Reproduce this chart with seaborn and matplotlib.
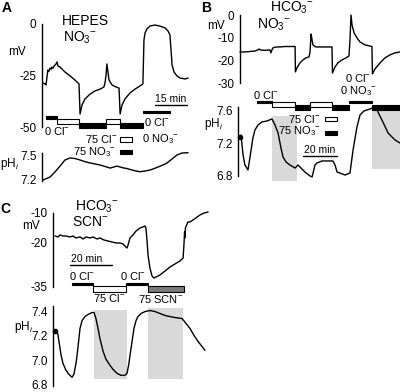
import numpy as np
import pandas as pd
import matplotlib
matplotlib.use("Agg")
import matplotlib.pyplot as plt
import seaborn as sns
from matplotlib.patches import Rectangle
from matplotlib.lines import Line2D
from matplotlib.transforms import blended_transform_factory

# ------------------------- data -------------------------
# Panel A (HEPES, NO3-), time in min
A_mv_t = [0, 0.9, 1.4, 2.3, 2.8, 3.3, 3.8, 4.2, 4.7, 5.2, 5.6, 6.1, 6.6, 7.0, 8.0, 10.3, 12.7, 15.0,
          16.9, 17.4, 18.3, 19.7, 22.1, 24.4, 26.8, 28.6, 29.1, 29.6, 30.0, 30.5, 31.0, 32.4, 34.3, 35.7,
          36.2, 37.1, 38.5, 40.8, 43.2, 45.5, 46.9, 47.4, 47.9, 48.8, 50.2, 52.6, 54.9, 57.3, 58.7, 59.6,
          60.1, 60.6, 61.5, 62.9, 64.3, 66.7, 68.1]
A_mv = [-28.6, -29.1, -29.6, -22.3, -23.0, -21.4, -22.0, -20.9, -21.5, -20.4, -20.0, -19.4, -18.4, -20.4,
        -20.9, -23.3, -25.2, -27.2, -29.1, -43.7, -39.3, -36.4, -34.0, -32.5, -31.6, -30.6, -28.6, -24.8,
        -19.4, -23.3, -27.2, -29.6, -30.6, -31.1, -43.7, -39.3, -36.4, -33.5, -31.6, -30.1, -29.1, -7.8,
        -4.4, -2.4, -1.0, -0.5, -1.0, -1.9, -3.4, -5.3, -12.6, -19.9, -23.3, -25.2, -26.2, -26.7, -26.2]
A_ph_t = [0, 3.3, 5.6, 8.0, 10.3, 12.7, 15.0, 17.4, 19.7, 22.1, 24.4, 26.8, 29.1, 31.5, 33.3, 34.7, 36.2,
          38.0, 39.4, 41.8, 43.7, 45.5, 47.9, 50.2, 51.6, 54.0, 56.3, 58.2, 60.6, 62.9, 65.3, 68.1]
A_ph = [7.187, 7.226, 7.291, 7.369, 7.448, 7.474, 7.467, 7.448, 7.426, 7.409, 7.396, 7.383, 7.363, 7.343,
        7.356, 7.369, 7.356, 7.343, 7.337, 7.317, 7.304, 7.295, 7.304, 7.317, 7.330, 7.356, 7.383, 7.409,
        7.461, 7.513, 7.539, 7.543]
A_sol_start = [1.4, 6.6, 17.1, 29.6, 36.0, 47.1]
A_sol_end = [6.6, 17.1, 29.6, 36.0, 47.1, 59.6]
A_sol_kind = ["0Cl", "75Cl", "75NO3", "75Cl", "75NO3", "0Cl0NO3"]
A_mv_ticks = [0, -25, -50]
A_mv_labels = ["0", "-25", "-50"]
A_ph_ticks = [7.5, 7.2]
A_ph_labels = ["7.5", "7.2"]
A_scale_min = 15

# Panel B (HCO3-, NO3-)
B_mv_t = [0, 2.9, 5.9, 8.8, 10.6, 11.2, 11.8, 14.7, 17.6, 18.2, 18.8, 19.4, 21.2, 23.5, 26.5, 29.4, 32.4,
          32.6, 33.5, 35.3, 37.1, 38.8, 40.6, 41.2, 41.8, 42.4, 42.9, 44.7, 47.1, 50.0, 54.1, 54.4, 55.9,
          57.6, 60.0, 62.4, 64.1, 64.7, 65.3, 65.9, 67.1, 68.8, 70.6, 73.5, 76.5, 77.6, 77.9, 79.4, 82.4,
          85.3, 88.2, 91.2, 94.1]
B_mv = [-16.3, -16.3, -16.1, -15.9, -15.4, -15.0, -15.4, -15.6, -15.4, -16.7, -15.4, -14.5, -14.1, -14.1,
        -13.9, -13.9, -13.9, -25.1, -23.3, -21.1, -19.8, -18.9, -18.5, -16.3, -8.4, -11.0, -13.2, -14.1,
        -14.1, -14.1, -14.1, -25.6, -22.9, -21.1, -19.8, -18.9, -18.1, -11.0, 0.0, -4.4, -7.9, -10.1,
        -11.9, -13.2, -13.7, -13.9, -26.0, -23.8, -21.1, -18.9, -17.6, -16.7, -16.3]
B_ph_t = [0, 0.6, 1.8, 2.9, 4.7, 5.9, 7.6, 8.8, 10.6, 12.9, 15.9, 18.8, 20.6, 22.4, 24.1, 25.3, 27.1,
          29.4, 32.4, 34.1, 35.3, 38.2, 41.2, 42.4, 44.1, 45.3, 48.2, 51.2, 54.7, 55.9, 57.1, 58.8, 61.8,
          64.7, 66.5, 68.8, 70.6, 72.9, 74.7, 78.2, 80.6, 83.5, 87.1, 91.2, 94.1]
B_ph = [7.28, 7.305, 7.058, 6.935, 6.874, 7.034, 7.268, 7.366, 7.428, 7.465, 7.477, 7.502, 7.428, 7.329,
        7.145, 7.034, 6.972, 6.935, 6.898, 6.935, 6.911, 6.849, 6.80, 6.788, 6.935, 6.96, 6.985, 6.985,
        6.985, 6.935, 6.849, 6.837, 6.812, 6.837, 7.12, 7.403, 7.551, 7.60, 7.612, 7.637, 7.612, 7.489,
        7.329, 7.243, 7.206]
B_sol_start = [10.0, 18.8, 32.6, 41.2, 54.4, 64.1, 77.9]
B_sol_end = [18.8, 32.6, 41.2, 54.4, 64.1, 77.6, 94.1]
B_sol_kind = ["0Cl", "75Cl", "75NO3", "75Cl", "75NO3", "0Cl0NO3", "75NO3"]
B_shade_t0 = [18.8, 77.6]
B_shade_t1 = [33.5, 94.1]
B_shade_lo = [6.738, 6.886]
B_shade_hi = [7.538, 7.674]
B_mv_ticks = [0, -10, -20, -30]
B_mv_labels = ["0", "-10", "-20", "-30"]
B_ph_ticks = [7.6, 7.2, 6.8]
B_ph_labels = ["7.6", "7.2", "6.8"]
B_scale_min = 20

# Panel C (HCO3-, SCN-)
C_mv_t = [0, 1.4, 2.4, 3.8, 5.2, 7.1, 8.6, 10, 11.9, 13.3, 14.8, 16.7, 18.1, 20, 21.4, 23.3, 25.2, 27.1,
          29, 31, 32.4, 33.3, 34.3, 34.8, 35.7, 37.1, 38.6, 40.5, 41.9, 42.9, 43.3, 43.8, 44.3, 45.2, 46.2,
          47.1, 48.1, 50, 52.4, 54.8, 57.1, 59.5, 61, 61.4, 61.7, 61.9, 62.1, 63.3, 64.3, 65.7, 67.1, 69,
          71, 72.9]
C_mv = [-17.83, -18.16, -17.49, -17.83, -17.83, -18.16, -17.83, -18.50, -18.16, -18.84, -18.16, -18.50,
        -18.16, -18.84, -18.50, -19.18, -19.52, -19.86, -20.20, -20.20, -20.54, -21.22, -21.90, -20.88,
        -18.50, -17.49, -16.13, -15.11, -14.77, -14.43, -15.11, -19.18, -24.27, -28.68, -31.40, -32.08,
        -31.74, -31.06, -29.70, -28.35, -27.33, -26.31, -25.29, -20.88, -16.47, -18.50, -15.11, -13.07,
        -13.07, -12.40, -11.72, -10.70, -10.03, -9.69]
C_ph_t = [0, 1.0, 1.4, 2.4, 2.9, 3.8, 4.8, 5.2, 5.7, 6.2, 7.1, 8.1, 9.0, 10.0, 10.5, 11.4, 11.9, 12.9,
          14.3, 15.7, 16.7, 17.6, 18.6, 19.5, 20.5, 21.4, 22.9, 24.3, 26.2, 27.6, 29.5, 31.4, 33.3, 34.3,
          35.2, 35.7, 36.7, 37.6, 38.6, 39.5, 41.0, 42.9, 45.2, 47.6, 50.0, 52.4, 54.8, 57.1, 60.5, 62.4,
          64.3, 66.2, 68.1, 70.0, 71.4]
C_ph = [7.234, 7.226, 7.209, 7.096, 7.039, 6.974, 6.934, 6.917, 6.909, 6.893, 6.877, 6.861, 6.885, 6.974,
        7.039, 7.177, 7.258, 7.323, 7.355, 7.372, 7.380, 7.388, 7.388, 7.339, 7.258, 7.177, 7.072, 7.007,
        6.958, 6.926, 6.893, 6.877, 6.877, 6.893, 6.974, 7.039, 7.153, 7.258, 7.323, 7.355, 7.380, 7.396,
        7.404, 7.396, 7.380, 7.364, 7.355, 7.347, 7.339, 7.299, 7.258, 7.201, 7.153, 7.112, 7.080]
C_sol_start = [8.1, 18.1, 34.0, 44.3]
C_sol_end = [18.1, 33.6, 44.3, 61.4]
C_sol_kind = ["0Cl", "75Cl", "0Cl", "75SCN"]
C_shade_t0 = [18.6, 44.3]
C_shade_t1 = [34.3, 61.0]
C_shade_lo = [6.845, 6.845]
C_shade_hi = [7.412, 7.428]
C_mv_ticks = [-10, -20, -35]
C_mv_labels = ["-10", "-20", "-35"]
C_ph_ticks = [7.4, 7.2, 7.0, 6.8]
C_ph_labels = ["7.4", "7.2", "7.0", "6.8"]
C_scale_min = 20

# ------------------------- style -------------------------
sns.set_style("white")
plt.rcParams['font.family'] = ['Liberation Sans', 'DejaVu Sans']
plt.rcParams['mathtext.fontset'] = 'custom'
plt.rcParams['mathtext.rm'] = 'Liberation Sans'
plt.rcParams['mathtext.it'] = 'Liberation Sans:italic'
plt.rcParams['mathtext.bf'] = 'Liberation Sans:bold'
plt.rcParams['axes.unicode_minus'] = False

W, H = 400, 392
fig = plt.figure(figsize=(W / 100, H / 100), dpi=100)

ov = fig.add_axes([0, 0, 1, 1])
ov.set_xlim(0, W)
ov.set_ylim(H, 0)
ov.axis('off')
ov.set_zorder(10)
ov.patch.set_visible(False)

TICK_FS = 8.5


def px_axes(l, t, r, b, x0, ppm, ylim, ticks, labels):
    ax = fig.add_axes([l / W, 1 - b / H, (r - l) / W, (b - t) / H])
    ax.set_xlim((l - x0) / ppm, (r - x0) / ppm)
    ax.set_ylim(*ylim)
    for s in ['top', 'right', 'bottom']:
        ax.spines[s].set_visible(False)
    ax.spines['left'].set_linewidth(1.0)
    ax.spines['left'].set_color('black')
    ax.set_xticks([])
    ax.set_yticks(ticks)
    ax.set_yticklabels(labels)
    ax.tick_params(axis='y', direction='out', length=3, width=1.0, pad=1,
                   labelsize=TICK_FS, colors='black')
    ax.patch.set_visible(False)
    ax.set_xlabel('')
    ax.set_ylabel('')
    return ax


def trace(ax, t, v, lw=1.0):
    sns.lineplot(x=t, y=v, ax=ax, color='black', linewidth=lw, estimator=None,
                 sort=False, legend=False)
    for ln in ax.lines:
        ln.set_clip_on(False)
    ax.set_xlabel('')
    ax.set_ylabel('')


def shades(ax, t0, t1, lo, hi):
    for a, b, c, d in zip(t0, t1, lo, hi):
        ax.add_patch(Rectangle((a, c), b - a, d - c, facecolor='#d9d9d9',
                               edgecolor='none', zorder=0, clip_on=False))


def bars(ax, starts, ends, kinds, styles):
    tr = blended_transform_factory(ax.transData, ov.transData)
    for s, e, k in zip(starts, ends, kinds):
        ytop, h, fc, ec = styles[k]
        ov.add_patch(Rectangle((s, ytop), e - s, h, transform=tr, facecolor=fc,
                               edgecolor=ec, lw=0.8, clip_on=False))


def scalebar(ax, t0, length, ypx):
    tr = blended_transform_factory(ax.transData, ov.transData)
    ov.add_line(Line2D([t0, t0 + length], [ypx, ypx], transform=tr, color='black',
                       lw=1.0, clip_on=False))


def txt(x, y, s, ha='left', fs=8, bold=False):
    ov.text(x, y, s, ha=ha, va='center', fontsize=fs,
            fontweight='bold' if bold else 'normal', color='black')


def legbox(x, y, w, h, fc):
    ov.add_patch(Rectangle((x, y), w, h, facecolor=fc, edgecolor='black', lw=0.8))


NO3 = "NO$_3{}^{-}$"
HCO3 = "HCO$_3{}^{-}$"
CLM = "Cl$^{-}$"
PHI = "pH$_i$"

# ------------------------- Panel A -------------------------
A_X0, A_PPM = 43, 2.13
axA_mv = px_axes(42, 24, 192, 127, A_X0, A_PPM, (-50, 0), A_mv_ticks, A_mv_labels)
trace(axA_mv, A_mv_t, A_mv)
axA_ph = px_axes(42, 153, 192, 181, A_X0, A_PPM, (7.174, 7.539), A_ph_ticks, A_ph_labels)
trace(axA_ph, A_ph_t, A_ph)

A_styles = {"0Cl": (116, 2.5, 'black', 'black'),
            "75Cl": (118.5, 5, 'white', 'black'),
            "75NO3": (123, 4.5, 'black', 'black'),
            "0Cl0NO3": (111, 2.2, 'black', 'black')}
bars(axA_mv, A_sol_start, A_sol_end, A_sol_kind, A_styles)
scalebar(axA_mv, 52.6, A_scale_min, 105)

txt(7, 8, "A", ha='center', fs=10, bold=True)
txt(62, 21, "HEPES", fs=10)
txt(63, 38, NO3, fs=10)
txt(17, 52, "mV", ha='center', fs=TICK_FS)
txt(44, 131, "0 " + CLM)
txt(117, 139, "75 " + CLM, ha='right')
legbox(120, 137, 12, 5, 'white')
txt(142, 139, "0 " + NO3)
txt(116, 152, "75 " + NO3, ha='right')
legbox(120, 150, 12, 4, 'black')
txt(171, 99, "15 min", ha='center', fs=7.5)
txt(157, 122, "0 " + CLM, ha='center')
txt(0.5, 164, PHI, ha='left', fs=TICK_FS)

# ------------------------- Panel B -------------------------
B_X0, B_PPM = 240, 1.7
axB_mv = px_axes(240, 15, 400, 83, B_X0, B_PPM, (-30, 0), B_mv_ticks, B_mv_labels)
trace(axB_mv, B_mv_t, B_mv)
axB_ph = px_axes(238, 107, 400, 176, B_X0, B_PPM, (6.8, 7.649), B_ph_ticks, B_ph_labels)
shades(axB_ph, B_shade_t0, B_shade_t1, B_shade_lo, B_shade_hi)
trace(axB_ph, B_ph_t, B_ph)
axB_ph.plot([B_ph_t[0]], [B_ph[0]], 'o', color='black', ms=3, clip_on=False)

B_styles = {"0Cl": (100.5, 2.3, 'black', 'black'),
            "75Cl": (102, 5, 'white', 'black'),
            "75NO3": (104.5, 5, 'black', 'black'),
            "0Cl0NO3": (100.5, 2.3, 'black', 'black')}
bars(axB_ph, B_sol_start, B_sol_end, B_sol_kind, B_styles)
scalebar(axB_ph, 37.1, B_scale_min, 156)

txt(206, 8, "B", ha='center', fs=10, bold=True)
txt(270, 8, HCO3, fs=10)
txt(257, 25, NO3, fs=10)
txt(216, 26, "mV", ha='center', fs=TICK_FS)
txt(253, 95, "0 " + CLM)
txt(358, 78, "0 " + CLM, ha='center')
txt(358, 91, "0 " + NO3, ha='center')
txt(320, 119, "75 " + CLM, ha='right')
legbox(325, 117, 12, 4, 'white')
txt(321, 131, "75 " + NO3, ha='right')
legbox(325, 131, 12, 3.5, 'black')
txt(320, 150, "20 min", ha='center', fs=7.5)
txt(214, 124, PHI, ha='center', fs=TICK_FS)

# ------------------------- Panel C -------------------------
C_X0, C_PPM = 55, 2.1
axC_mv = px_axes(53, 212.9, 212, 286.6, C_X0, C_PPM, (-35, -10), C_mv_ticks, C_mv_labels)
trace(axC_mv, C_mv_t, C_mv)
axC_ph = px_axes(53, 306.5, 212, 386, C_X0, C_PPM, (6.79, 7.437), C_ph_ticks, C_ph_labels)
shades(axC_ph, C_shade_t0, C_shade_t1, C_shade_lo, C_shade_hi)
trace(axC_ph, C_ph_t, C_ph)
axC_ph.plot([C_ph_t[0]], [C_ph[0]], 'o', color='black', ms=3, clip_on=False)

C_styles = {"0Cl": (282.5, 2.5, 'black', 'black'),
            "75Cl": (285.5, 6, 'white', 'black'),
            "75SCN": (285.5, 6, '#7a7a7a', 'black')}
bars(axC_mv, C_sol_start, C_sol_end, C_sol_kind, C_styles)
scalebar(axC_mv, 7.1, C_scale_min, 265)

txt(5, 209, "C", ha='center', fs=10, bold=True)
txt(75, 207, HCO3, fs=10)
txt(72, 222, "SCN$^{-}$", fs=10)
txt(31, 226, "mV", ha='center', fs=TICK_FS)
txt(87, 259, "20 min", ha='center', fs=7.5)
txt(82, 276, "0 " + CLM, ha='center')
txt(133, 276, "0 " + CLM, ha='center')
txt(109, 298, "75 " + CLM, ha='center')
txt(161, 299, "75 SCN$^{-}$", ha='center')
txt(24, 327, PHI, ha='center', fs=TICK_FS)

fig.savefig("out.png", dpi=100)
